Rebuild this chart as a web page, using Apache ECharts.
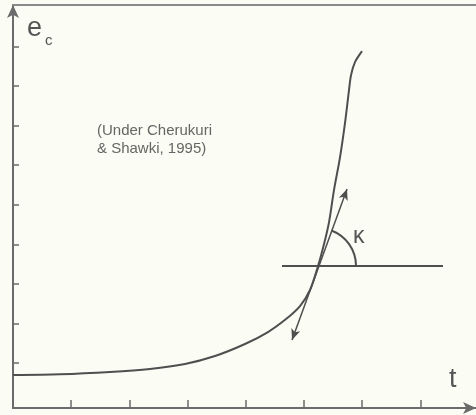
<!DOCTYPE html>
<html>
<head>
<meta charset="utf-8">
<script src="https://cdn.jsdelivr.net/npm/echarts@6/dist/echarts.min.js"></script>
<style>
html,body{margin:0;padding:0;background:#fbfcf4;}
#c{width:476px;height:415px;}
</style>
</head>
<body>
<div id="c"></div>
<script>
// creep curve e_c(t) (arbitrary units)
var curveT  = [0, 0.808, 1.667, 2.354, 2.955, 3.471, 3.986, 4.381, 4.691, 4.931, 5.103, 5.241, 5.344, 5.430, 5.515, 5.619, 5.704, 5.773, 5.808, 5.876, 5.997];
var curveEc = [0.833, 0.851, 0.909, 0.985, 1.111, 1.313, 1.616, 1.919, 2.247, 2.576, 2.980, 3.586, 4.141, 4.697, 5.505, 6.338, 7.197, 8.030, 8.409, 8.737, 9.015];
// tangent at the point of interest, and the horizontal reference line
var tangentPoint = [5.241, 3.586];
var tangentStart = [4.794, 1.717];
var tangentEnd   = [5.739, 5.530];
var horizT  = [4.622, 7.388];
var horizEc = [3.586, 3.586];
var kappaPos = [5.94, 4.32];
// axis ticks
var xTicks = [1, 2, 3, 4, 5, 6, 7];
var yTicks = [1.136, 2.136, 3.136, 4.136, 5.136, 6.136, 7.136, 8.136, 9.136];
var xMax = 7.955, yMax = 10.18;

var AX = '#6b6b6b', INK = '#4f4f4f';
var chart = echarts.init(document.getElementById('c'), null, {renderer: 'canvas'});
var curve = curveT.map(function (t, i) { return [t, curveEc[i]]; });
var horiz = horizT.map(function (t, i) { return [t, horizEc[i]]; });

chart.setOption({
  backgroundColor: '#fbfcf4',
  animation: false,
  grid: {left: 13, right: 0, top: 5, bottom: 7, containLabel: false},
  xAxis: [{
    type: 'value', min: 0, max: xMax, position: 'bottom',
    axisLine: {show: true, onZero: false, symbol: ['none', 'arrow'], symbolSize: [9, 13],
      lineStyle: {color: AX, width: 2}},
    axisTick: {show: true, inside: true, length: 8, customValues: xTicks, lineStyle: {color: AX, width: 1.5}},
    axisLabel: {show: false},
    splitLine: {show: false}
  }, {
    type: 'value', min: 0, max: xMax, position: 'top',
    axisLine: {show: true, onZero: false, lineStyle: {color: '#8a8a8a', width: 2}},
    axisTick: {show: false}, axisLabel: {show: false}, splitLine: {show: false}
  }],
  yAxis: {
    type: 'value', min: 0, max: yMax,
    axisLine: {show: true, onZero: false, symbol: ['none', 'arrow'], symbolSize: [9, 13],
      lineStyle: {color: AX, width: 2}},
    axisTick: {show: true, inside: true, length: 6, customValues: yTicks, lineStyle: {color: AX, width: 1.5}},
    axisLabel: {show: false},
    splitLine: {show: false}
  },
  graphic: [
    {type: 'text', left: 27, top: 15, style: {text: 'e', font: '27px "Liberation Sans", Arial, sans-serif', fill: '#555'}},
    {type: 'text', left: 45, top: 33, style: {text: 'c', font: '15px "Liberation Sans", Arial, sans-serif', fill: '#555'}},
    {type: 'text', left: 449, top: 366, style: {text: 't', font: '27px "Liberation Sans", Arial, sans-serif', fill: '#555'}},
    {type: 'text', left: 97, top: 122, style: {text: '(Under Cherukuri\n& Shawki, 1995)', font: '15px "Liberation Sans", Arial, sans-serif', fill: '#666', lineHeight: 18, align: 'left'}}
  ],
  series: [{
    type: 'line', data: curve, smooth: 0.3, showSymbol: false,
    lineStyle: {color: INK, width: 2}, silent: true
  }, {
    type: 'line', data: horiz, showSymbol: false,
    lineStyle: {color: INK, width: 2}, silent: true,
    markLine: {
      silent: true, symbol: ['arrow', 'arrow'], symbolSize: [7, 11],
      label: {show: false},
      lineStyle: {color: INK, width: 1.5, type: 'solid'},
      data: [[{coord: tangentStart}, {coord: tangentEnd}]]
    }
  }, {
    type: 'custom', silent: true,
    data: [tangentPoint.concat(kappaPos)],
    renderItem: function (params, api) {
      var c = api.coord([api.value(0), api.value(1)]);
      var e = api.coord(tangentEnd);
      var k = api.coord([api.value(2), api.value(3)]);
      var ang = Math.atan2(e[1] - c[1], e[0] - c[0]);
      return {type: 'group', children: [{
        type: 'arc',
        shape: {cx: c[0], cy: c[1], r: 38, startAngle: ang, endAngle: 0, clockwise: true},
        style: {stroke: INK, lineWidth: 2, fill: null}
      }, {
        type: 'text',
        style: {x: k[0], y: k[1], text: 'κ', font: '23px "Liberation Sans", Arial, sans-serif',
          fill: '#555', align: 'center', verticalAlign: 'middle'}
      }]};
    }
  }]
});
</script>
</body>
</html>
